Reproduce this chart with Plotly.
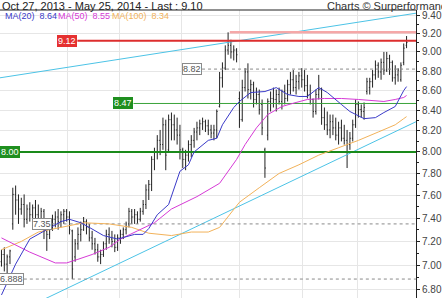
import numpy as np
import plotly.graph_objects as go

# ---------------- data (daily bars, Oct 28 2013 .. May 23 2014) ----------------
opens = [
    7.03, 7.09, 7.01, 7.07, 7.35, 7.61, 7.56, 7.48, 7.52, 7.39,
    7.48, 7.43, 7.49, 7.43, 7.39, 7.46, 7.29, 7.26, 7.35, 7.39,
    7.41, 7.37, 7.43, 7.46, 7.41, 7.29, 7.07, 7.18, 7.26, 7.30,
    7.37, 7.32, 7.23, 7.18, 7.13, 7.07, 7.09, 7.18, 7.26, 7.22,
    7.20, 7.15, 7.23, 7.26, 7.30, 7.35, 7.46, 7.41, 7.43, 7.39,
    7.46, 7.52, 7.65, 7.70, 7.93, 8.00, 8.11, 8.07, 8.26, 8.02,
    8.31, 8.26, 8.21, 8.16, 8.02, 7.93, 7.97, 8.07, 8.11, 8.19,
    8.23, 8.27, 8.29, 8.25, 8.21, 8.18, 8.21, 8.44, 8.73, 8.83,
    9.02, 9.07, 9.00, 9.02, 8.52, 8.31, 8.63, 8.79, 8.61, 8.66,
    8.51, 8.56, 8.46, 8.02, 8.16, 8.49, 8.52, 8.51, 8.56, 8.49,
    8.59, 8.52, 8.66, 8.71, 8.63, 8.69, 8.75, 8.71, 8.65, 8.56,
    8.51, 8.39, 8.56, 8.61, 8.33, 8.26, 8.21, 8.29, 8.23, 8.16,
    8.23, 8.13, 8.11, 8.07, 8.13, 8.26, 8.46, 8.41, 8.39, 8.59,
    8.63, 8.69, 8.76, 8.86, 8.79, 8.89, 8.81, 8.93, 8.89, 8.73,
    8.76, 8.71, 8.89, 9.07]
highs = [
    7.13, 7.15, 7.09, 7.13, 7.67, 7.69, 7.61, 7.58, 7.61, 7.52,
    7.54, 7.52, 7.56, 7.52, 7.49, 7.48, 7.35, 7.39, 7.43, 7.46,
    7.48, 7.46, 7.48, 7.48, 7.46, 7.30, 7.22, 7.32, 7.37, 7.41,
    7.39, 7.35, 7.29, 7.23, 7.18, 7.13, 7.20, 7.30, 7.32, 7.29,
    7.26, 7.26, 7.30, 7.32, 7.37, 7.49, 7.48, 7.48, 7.46, 7.49,
    7.56, 7.70, 7.74, 7.96, 8.04, 8.16, 8.21, 8.33, 8.31, 8.36,
    8.38, 8.36, 8.33, 8.26, 8.04, 8.02, 8.11, 8.16, 8.23, 8.29,
    8.31, 8.33, 8.31, 8.31, 8.26, 8.26, 8.41, 8.79, 8.89, 9.07,
    9.21, 9.13, 9.07, 9.04, 8.59, 8.71, 8.83, 8.88, 8.71, 8.69,
    8.63, 8.61, 8.51, 8.04, 8.52, 8.59, 8.63, 8.61, 8.63, 8.61,
    8.66, 8.71, 8.79, 8.81, 8.76, 8.79, 8.83, 8.81, 8.76, 8.66,
    8.52, 8.61, 8.76, 8.63, 8.43, 8.39, 8.36, 8.36, 8.33, 8.29,
    8.31, 8.26, 8.21, 8.19, 8.31, 8.51, 8.49, 8.46, 8.48, 8.73,
    8.73, 8.81, 8.91, 8.89, 8.93, 9.00, 9.00, 8.97, 8.91, 8.86,
    8.83, 8.89, 9.09, 9.17]
lows = [
    6.99, 6.95, 6.93, 7.01, 7.30, 7.43, 7.35, 7.43, 7.32, 7.35,
    7.37, 7.35, 7.37, 7.32, 7.35, 7.22, 7.12, 7.22, 7.29, 7.32,
    7.30, 7.32, 7.35, 7.37, 7.26, 6.888, 7.03, 7.13, 7.20, 7.29,
    7.26, 7.20, 7.13, 7.09, 7.03, 7.01, 7.07, 7.13, 7.18, 7.15,
    7.11, 7.12, 7.18, 7.22, 7.26, 7.32, 7.35, 7.35, 7.35, 7.37,
    7.43, 7.48, 7.56, 7.64, 7.83, 7.93, 7.97, 8.02, 7.83, 8.00,
    8.11, 8.11, 8.07, 7.93, 7.85, 7.83, 7.91, 7.95, 8.04, 8.11,
    8.16, 8.21, 8.19, 8.16, 8.13, 8.11, 8.13, 8.43, 8.63, 8.81,
    8.97, 8.93, 8.91, 8.89, 8.23, 8.29, 8.59, 8.52, 8.51, 8.43,
    8.46, 8.36, 8.16, 7.76, 8.11, 8.39, 8.43, 8.39, 8.46, 8.41,
    8.46, 8.49, 8.56, 8.59, 8.56, 8.61, 8.63, 8.59, 8.52, 8.46,
    8.33, 8.36, 8.51, 8.26, 8.21, 8.16, 8.13, 8.16, 8.11, 8.07,
    8.10, 8.07, 7.85, 8.02, 8.10, 8.23, 8.33, 8.33, 8.31, 8.56,
    8.56, 8.63, 8.71, 8.73, 8.71, 8.76, 8.79, 8.76, 8.69, 8.66,
    8.69, 8.69, 8.86, 9.04]
closes = [
    7.09, 7.01, 7.07, 7.12, 7.61, 7.56, 7.48, 7.52, 7.39, 7.48,
    7.43, 7.49, 7.43, 7.39, 7.46, 7.29, 7.26, 7.35, 7.39, 7.41,
    7.37, 7.43, 7.46, 7.41, 7.30, 6.97, 7.18, 7.26, 7.30, 7.37,
    7.32, 7.23, 7.18, 7.13, 7.07, 7.09, 7.18, 7.26, 7.22, 7.20,
    7.15, 7.23, 7.26, 7.30, 7.35, 7.46, 7.41, 7.43, 7.39, 7.46,
    7.52, 7.65, 7.70, 7.93, 8.00, 8.11, 8.07, 8.26, 7.97, 8.31,
    8.26, 8.21, 8.16, 8.02, 7.93, 7.97, 8.07, 8.11, 8.19, 8.23,
    8.27, 8.29, 8.25, 8.21, 8.18, 8.21, 8.39, 8.73, 8.83, 9.02,
    9.07, 9.00, 9.02, 8.97, 8.31, 8.63, 8.79, 8.61, 8.66, 8.51,
    8.56, 8.41, 8.23, 7.85, 8.49, 8.52, 8.51, 8.56, 8.49, 8.59,
    8.52, 8.66, 8.71, 8.63, 8.69, 8.75, 8.71, 8.65, 8.56, 8.51,
    8.39, 8.56, 8.61, 8.33, 8.26, 8.21, 8.29, 8.23, 8.16, 8.23,
    8.13, 8.11, 8.07, 8.13, 8.26, 8.46, 8.41, 8.39, 8.43, 8.69,
    8.69, 8.76, 8.86, 8.79, 8.89, 8.81, 8.93, 8.89, 8.73, 8.76,
    8.81, 8.86, 9.04, 9.10]

# moving averages at sample bars
ma20_idx = [0, 5, 10, 16, 21, 24, 28, 31, 36, 41, 47, 50, 52, 55, 59, 63, 66, 68, 73, 76,
            78, 82, 84, 88, 93, 97, 101, 105, 108, 112, 115, 120, 123, 128, 132, 135, 139, 142, 143]
ma20_val = [6.76, 7.01, 7.22, 7.30, 7.37, 7.39, 7.36, 7.32, 7.25, 7.22, 7.26, 7.26, 7.31, 7.43,
            7.52, 7.82, 7.88, 8.00, 8.11, 8.13, 8.26, 8.43, 8.49, 8.58, 8.59, 8.63, 8.56, 8.54,
            8.54, 8.63, 8.58, 8.46, 8.39, 8.32, 8.33, 8.38, 8.44, 8.60, 8.64]
ma50_idx = [0, 10, 19, 23, 27, 32, 38, 42, 48, 54, 60, 69, 77, 83, 86, 90, 94, 99, 104, 108,
            114, 120, 126, 132, 135, 139, 142, 143]
ma50_val = [7.23, 7.11, 7.02, 7.02, 7.05, 7.09, 7.15, 7.22, 7.29, 7.36, 7.48, 7.59, 7.71, 7.93,
            8.07, 8.23, 8.36, 8.44, 8.48, 8.51, 8.52, 8.52, 8.51, 8.50, 8.49, 8.51, 8.53, 8.55]
ma100_idx = [0, 7, 13, 23, 29, 38, 46, 52, 60, 67, 73, 77, 80, 84, 91, 98, 105, 112, 119, 126,
             133, 139, 142, 143]
ma100_val = [7.13, 7.20, 7.28, 7.33, 7.36, 7.35, 7.32, 7.27, 7.25, 7.28, 7.28, 7.32, 7.41, 7.54,
             7.67, 7.80, 7.88, 7.97, 8.04, 8.11, 8.19, 8.26, 8.32, 8.34]

# trendlines (bar index, price)
upper_trend_idx = [-0.52, 146.33]
upper_trend_val = [8.73, 9.42]
lower_trend_idx = [14.5, 146.33]
lower_trend_val = [6.72, 8.29]

# horizontal levels: (price, start bar, text)
level_red = (9.12, 26.8, "9.12")
level_pink = (9.21, 80.6)
level_green_a = (8.47, 46.6, "8.47")
level_green_b = (8.00, 6.5, "8.00")
level_dot_a = (8.82, 70.8, "8.82")
level_dot_b = (7.35, 17.7, "7.35")
level_dot_c = (6.888, 7.9, "6.888")

month_grid = [23.3, 41.8, 63.5, 84.1, 106.1, 125.7]
tick_vals = [6.8, 7.0, 7.2, 7.4, 7.6, 7.8, 8.0, 8.2, 8.4, 8.6, 8.8, 9.0, 9.2, 9.4]
minor_vals = [6.9, 7.1, 7.3, 7.5, 7.7, 7.9, 8.1, 8.3, 8.5, 8.7, 8.9, 9.1, 9.3]

title_text = "Oct 27, 2013 - May 25, 2014 - Last : 9.10"
credit_text = "Charts \u00a9 Surperformance.com"
legend_items = [("MA(20)  8.64", "#3a3ac8", 3), ("MA(50)  8.55", "#d63ad6", 57), ("MA(100)  8.34", "#f2b25a", 111)]

# ---------------- figure ----------------
X_MIN, X_MAX = -0.52, 146.33
Y_MIN, Y_MAX = 6.736, 9.4555
W, H = 442, 300
ML, MR, MT, MB = 0, 22, 10, 2
PW, PH = W - ML - MR, H - MT - MB
FONT = "Liberation Sans, Arial, sans-serif"

idx = list(range(len(closes)))
fig = go.Figure()

def hline(level, color, width, dash="solid"):
    fig.add_trace(go.Scatter(x=[level[1], X_MAX], y=[level[0], level[0]], mode="lines",
                             line=dict(color=color, width=width, dash=dash),
                             hoverinfo="skip", showlegend=False))

fig.add_trace(go.Scatter(x=upper_trend_idx, y=upper_trend_val, mode="lines",
                         line=dict(color="#4cc3e6", width=1), showlegend=False))
fig.add_trace(go.Scatter(x=lower_trend_idx, y=lower_trend_val, mode="lines",
                         line=dict(color="#4cc3e6", width=1), showlegend=False))

hline(level_dot_a, "#8a8a8a", 1, "dot")
hline(level_dot_b, "#8a8a8a", 1, "dot")
hline(level_dot_c, "#8a8a8a", 1, "dot")
hline(level_green_a, "#3aa33a", 1)
hline(level_green_b, "#1a8a1a", 2)
hline(level_pink, "#f5a8a8", 2.5)
hline(level_red, "#dd2e2e", 2)

fig.add_trace(go.Scatter(x=ma100_idx, y=ma100_val, mode="lines",
                         line=dict(color="#f2b25a", width=1), showlegend=False))
fig.add_trace(go.Scatter(x=ma50_idx, y=ma50_val, mode="lines",
                         line=dict(color="#d63ad6", width=1), showlegend=False))
fig.add_trace(go.Scatter(x=ma20_idx, y=ma20_val, mode="lines",
                         line=dict(color="#3a3ac8", width=1), showlegend=False))

fig.add_trace(go.Ohlc(x=idx, open=opens, high=highs, low=lows, close=closes,
                      increasing=dict(line=dict(color="#222222", width=1)),
                      decreasing=dict(line=dict(color="#222222", width=1)),
                      tickwidth=0.3, showlegend=False))

annotations = []
def label(level, bg, fg, border):
    annotations.append(dict(x=level[1], y=np.log10(level[0]), xref="x", yref="y",
                            text=level[2], showarrow=False, xanchor="right", yanchor="middle",
                            font=dict(family=FONT, size=9, color=fg),
                            bgcolor=bg, bordercolor=border, borderwidth=1, borderpad=0))

label(level_red, "#e53030", "white", "#e53030")
label(level_green_a, "#1f8f1f", "white", "#1f8f1f")
label(level_green_b, "#1f8f1f", "white", "#1f8f1f")
label(level_dot_a, "white", "#555555", "#8a8a8a")
label(level_dot_b, "white", "#555555", "#8a8a8a")
label(level_dot_c, "white", "#555555", "#8a8a8a")

def px_x(p):
    return (p - ML) / PW
def px_y(p):
    return 1 - (p - MT) / PH

annotations.append(dict(x=px_x(0), y=px_y(5.5), xref="paper", yref="paper", text=title_text,
                        showarrow=False, xanchor="left", yanchor="middle",
                        font=dict(family=FONT, size=11, color="#222222")))
annotations.append(dict(x=px_x(328), y=px_y(5.5), xref="paper", yref="paper", text=credit_text,
                        showarrow=False, xanchor="left", yanchor="middle",
                        font=dict(family=FONT, size=11, color="#333333")))
for txt, col, xp in legend_items:
    annotations.append(dict(x=px_x(xp), y=px_y(16.5), xref="paper", yref="paper", text=txt,
                            showarrow=False, xanchor="left", yanchor="middle",
                            font=dict(family=FONT, size=9, color=col)))

fig.update_layout(
    width=W, height=H, margin=dict(l=ML, r=MR, t=MT, b=MB),
    paper_bgcolor="white", plot_bgcolor="white",
    annotations=annotations,
    shapes=[dict(type="line", xref="paper", yref="paper", x0=0, x1=1, y0=1, y1=1,
                 line=dict(color="#222222", width=1))],
    xaxis=dict(range=[X_MIN, X_MAX], tickvals=month_grid, showticklabels=False, ticks="",
               showgrid=True, gridcolor="#e6e6e6", gridwidth=1, zeroline=False,
               rangeslider=dict(visible=False), showline=False, fixedrange=True),
    yaxis=dict(type="log", side="right", range=[np.log10(Y_MIN), np.log10(Y_MAX)],
               tickvals=tick_vals, ticktext=[f"{v:.2f}" for v in tick_vals],
               ticks="outside", ticklen=3, tickcolor="#222222",
               minor=dict(tickvals=minor_vals, ticks="outside", ticklen=2, tickcolor="#222222",
                          showgrid=False),
               showgrid=True, gridcolor="#e6e6e6", gridwidth=1,
               showline=True, linecolor="#222222", linewidth=1, zeroline=False,
               tickfont=dict(family=FONT, size=10, color="#444444"), fixedrange=True),
    showlegend=False,
)

fig.write_html("out.html", config=dict(displayModeBar=False))
